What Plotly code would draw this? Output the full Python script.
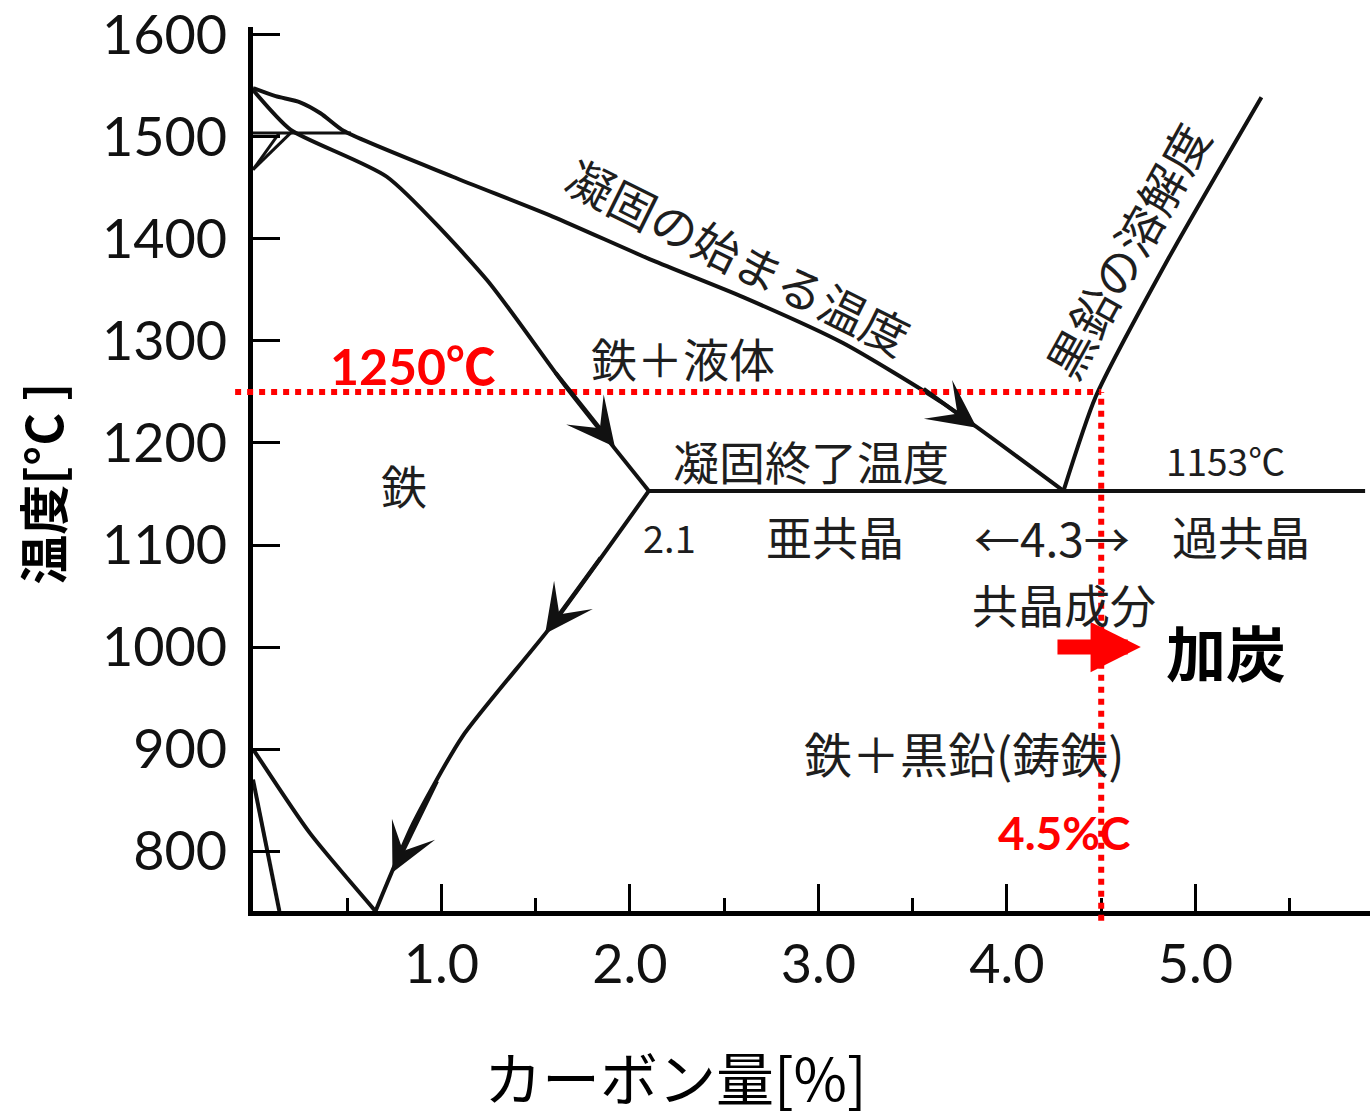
import plotly.graph_objects as go

# ---- axis scales -------------------------------------------------------
X_RANGE = [0.0, 5.926]
Y_RANGE = [741.2, 1607.8]
x_tick_vals = [1, 2, 3, 4, 5]
x_tick_text = ["1.0", "2.0", "3.0", "4.0", "5.0"]
y_tick_vals = [800, 900, 1000, 1100, 1200, 1300, 1400, 1500, 1600]
y_tick_text = ["800", "900", "1000", "1100", "1200", "1300", "1400", "1500", "1600"]

# ---- Fe-C phase boundaries (carbon %, temperature degC) ----------------
liquidus_c = [0.0, 0.12, 0.25, 0.36, 0.48, 1.06, 1.59, 2.12, 2.60, 3.13, 3.66, 4.3]
liquidus_t = [1548, 1540, 1534, 1523, 1506, 1461, 1422, 1379, 1343, 1298, 1239, 1153]

solidus_c = [0.0, 0.20, 0.71, 1.24, 1.66, 2.1]
solidus_t = [1546, 1507, 1461, 1360, 1255, 1153]

delta_a_c = [0.0, 0.14]
delta_a_t = [1468, 1504]
delta_b_c = [0.0, 0.20]
delta_b_t = [1468, 1504]

peritectic_c = [0.0, 0.52]
peritectic_t = [1504, 1504]

eutectic_c = [2.1, 5.9]
eutectic_t = [1153, 1153]

graphite_c = [4.3, 4.47, 4.86, 5.35]
graphite_t = [1153, 1245, 1382, 1539]

acm_c = [2.1, 1.58, 1.11, 0.85, 0.65]
acm_t = [1153, 1020, 912, 827, 741]

a3_c = [0.0, 0.30, 0.65]
a3_t = [900, 818, 741]

alpha_c = [0.0, 0.14]
alpha_t = [870, 741]

# direction arrows drawn on the boundaries: (tail, tip)
flow_arrows = [
    ((1.60, 1270), (1.92, 1196)),   # solidus
    ((3.55, 1254), (3.84, 1215)),   # liquidus
    ((1.85, 1089), (1.55, 1013)),   # Acm upper
    ((0.98, 870), (0.74, 779)),     # Acm lower
]

# operating point
TEMP_MARK = 1250
CARBON_MARK = 4.5

LINE = "#111111"
TXT = "#1e1e1e"
CJK = "Noto Sans CJK JP"

fig = go.Figure()


def add_boundary(c, t, width=4, smooth=True):
    line = dict(color=LINE, width=width)
    if smooth and len(c) > 2:
        line.update(shape="spline", smoothing=0.6)
    fig.add_trace(go.Scatter(x=c, y=t, mode="lines", line=line,
                             hoverinfo="skip", showlegend=False))


add_boundary(liquidus_c, liquidus_t)
add_boundary(solidus_c, solidus_t)
add_boundary(delta_a_c, delta_a_t, 3)
add_boundary(delta_b_c, delta_b_t, 3)
add_boundary(peritectic_c, peritectic_t, 3)
add_boundary(eutectic_c, eutectic_t)
add_boundary(graphite_c, graphite_t)
add_boundary(acm_c, acm_t)
add_boundary(a3_c, a3_t)
add_boundary(alpha_c, alpha_t)

# ---- red guide lines for the operating point ---------------------------
x_frac = (CARBON_MARK - X_RANGE[0]) / (X_RANGE[1] - X_RANGE[0])
y_frac = (TEMP_MARK - Y_RANGE[0]) / (Y_RANGE[1] - Y_RANGE[0])
dot = dict(color="#ff0000", width=6, dash="6px,6px")
fig.add_shape(type="line", xref="paper", yref="y", x0=-0.016, x1=x_frac,
              y0=TEMP_MARK, y1=TEMP_MARK, line=dot)
fig.add_shape(type="line", xref="x", yref="paper", x0=CARBON_MARK, x1=CARBON_MARK,
              y0=-0.011, y1=y_frac, line=dot)

annotations = []

# arrowheads along the boundaries
for (tx, ty), (hx, hy) in flow_arrows:
    annotations.append(dict(x=hx, y=hy, ax=tx, ay=ty, xref="x", yref="y",
                            axref="x", ayref="y", text="", showarrow=True,
                            arrowhead=3, arrowwidth=4, arrowsize=2.0,
                            arrowcolor=LINE, font=dict(size=1)))

# carburising arrow
annotations.append(dict(x=4.71, y=1000, ax=4.26, ay=1000, xref="x", yref="y",
                        axref="x", ayref="y", text="", showarrow=True,
                        arrowhead=2, arrowwidth=15, arrowsize=0.67,
                        arrowcolor="#ff0000", font=dict(size=1)))


def label(text, x, y, size=46, color=TXT, angle=0, family=CJK, weight="normal"):
    annotations.append(dict(text=text, x=x, y=y, xref="x", yref="y",
                            showarrow=False, textangle=angle,
                            xanchor="center", yanchor="middle",
                            font=dict(family=family, size=size, color=color,
                                      weight=weight)))


label("凝固の始まる温度", 2.58, 1384, size=47, angle=26.4)
label("鉄＋液体", 2.28, 1284)
label("凝固終了温度", 2.96, 1183)
label("黒鉛の溶解度", 4.63, 1389, size=47, angle=-61)
label("1153℃", 5.16, 1183, size=37)
label("鉄", 0.80, 1160)
label("2.1", 2.21, 1108, size=38)
label("亜共晶", 3.09, 1110)
label("←4.3→", 4.24, 1108, size=46)
label("過共晶", 5.24, 1110)
label("共晶成分", 4.30, 1043)
label("加炭", 5.16, 997, size=60, color="#000000", weight="bold")
label("鉄＋黒鉛(鋳鉄)", 3.77, 897, size=48)
label("4.5%C", 4.30, 818, size=46, color="#ff0000",
      family="Lato, " + CJK, weight="bold")
label("1250℃", 0.85, 1275, size=50, color="#ff0000",
      family="Lato, " + CJK, weight="bold")

# axis titles
annotations.append(dict(text="カーボン量[%]", x=0.378, y=-0.187, xref="paper",
                        yref="paper", showarrow=False,
                        xanchor="center", yanchor="middle",
                        font=dict(family=CJK, size=58, color="#000000")))
annotations.append(dict(text="温度[°C ]", x=-0.19, y=0.483, xref="paper",
                        yref="paper", showarrow=False, textangle=-90,
                        xanchor="center", yanchor="middle",
                        font=dict(family=CJK, size=50, color="#000000",
                                  weight="bold")))

tickfont = dict(family="Lato, Liberation Sans", size=54, color="#111111")

fig.update_layout(
    width=1370, height=1117,
    margin=dict(l=253, r=0, t=27, b=206),
    paper_bgcolor="white", plot_bgcolor="white",
    showlegend=False,
    annotations=annotations,
)
fig.update_xaxes(
    range=X_RANGE, showline=True, linecolor="black", linewidth=5,
    showgrid=False, zeroline=False,
    tickmode="array", tickvals=x_tick_vals, ticktext=x_tick_text,
    ticks="inside", ticklen=27, tickwidth=3, tickcolor="black",
    minor=dict(tickmode="linear", tick0=0, dtick=0.5, ticks="inside",
               ticklen=13, tickwidth=3, tickcolor="black", showgrid=False),
    tickfont=tickfont, ticklabelstandoff=2,
)
fig.update_yaxes(
    range=Y_RANGE, showline=True, linecolor="black", linewidth=5,
    showgrid=False, zeroline=False,
    tickmode="array", tickvals=y_tick_vals, ticktext=y_tick_text,
    ticks="inside", ticklen=27, tickwidth=3, tickcolor="black",
    tickfont=tickfont, ticklabelstandoff=10,
)

fig.write_html("out.html")
